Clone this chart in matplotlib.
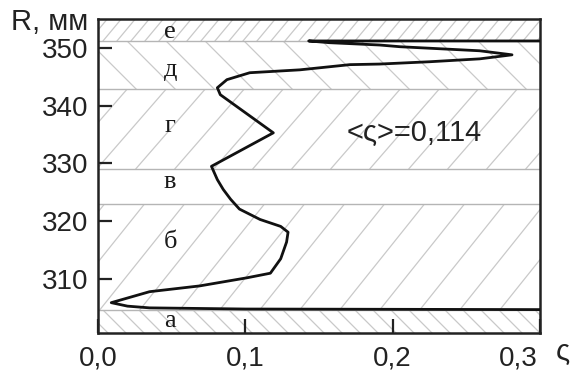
import matplotlib
matplotlib.use('Agg')
import matplotlib.pyplot as plt
from matplotlib.patches import Rectangle
import matplotlib.transforms as mtransforms
import numpy as np

# ---- data ----
zeta = [0.300, 0.100, 0.035, 0.020, 0.009, 0.035, 0.069, 0.101, 0.117,
        0.124, 0.128, 0.129, 0.124, 0.110, 0.096, 0.090, 0.085, 0.081, 0.077,
        0.119, 0.083, 0.081, 0.0875, 0.103, 0.137, 0.171, 0.191, 0.225,
        0.259, 0.281, 0.259, 0.205, 0.191, 0.157, 0.143, 0.300]
radius = [304.7, 304.8, 305.0, 305.3, 305.9, 307.8, 308.8, 310.2, 311.0,
          313.5, 316.4, 318.1, 319.1, 320.3, 322.1, 323.8, 325.5, 327.2, 329.5,
          335.3, 341.9, 343.1, 344.5, 345.7, 346.2, 347.1, 347.2, 347.6,
          348.1, 348.8, 349.5, 350.2, 350.5, 350.9, 351.2, 351.2]

zone_edges = [300.65, 304.7, 322.9, 329.1, 342.9, 351.2, 355.0]
zone_labels = ['а', 'б', 'в', 'г', 'д', 'е']
zone_label_y = [302.8, 316.4, 326.7, 336.4, 346.2, 352.8]
zone_label_x = 0.049

xticks = [0.0, 0.1, 0.2, 0.3]
xtick_labels = ['0,0', '0,1', '0,2', '0,3']
yticks = [310, 320, 330, 340, 350]
ytick_labels = ['310', '320', '330', '340', '350']
mean_text = '<ς>=0,114'

# hatch styles per zone: (direction, spacing px, slope px, phase px)
hatch_styles = [('\\', 18, 1.0, 0), ('/', 40, 1.25, 20), (None, 0, 0, 0),
                ('/', 39, 1.15, 136), ('\\', 39, 1.0, 136), ('/', 14, 1.2, 5)]

W, H = 571, 374
fig = plt.figure(figsize=(W / 100, H / 100), dpi=100)
ax = fig.add_axes([98 / W, 1 - 333 / H, 442 / W, 314 / H])
ax.set_xlim(0, 0.3)
ax.set_ylim(zone_edges[0], zone_edges[-1])

# zone hatching and boundaries
for i, (style, sp, k, ph) in enumerate(hatch_styles):
    y0, y1 = zone_edges[i], zone_edges[i + 1]
    if style is not None:
        (px0, py0), (px1, py1) = ax.transData.transform([(0, y0), (0.3, y1)])
        h = py1 - py0
        rect = Rectangle((0, y0), 0.3, y1 - y0, transform=ax.transData)
        if style == '/':
            start = ph - np.ceil((ph - (px0 - h / k - sp)) / sp) * sp
            cs = np.arange(start, px1 + sp, sp)
            for c in cs:
                pts = ax.transData.inverted().transform([(c, py0), (c + h / k, py1)])
                ln, = ax.plot(pts[:, 0], pts[:, 1], color='#c9c9c9', lw=0.9, zorder=1)
                ln.set_clip_path(rect)
        else:
            start = ph - np.ceil((ph - (px0 - sp)) / sp) * sp
            cs = np.arange(start, px1 + h / k + sp, sp)
            for c in cs:
                pts = ax.transData.inverted().transform([(c, py0), (c - h / k, py1)])
                ln, = ax.plot(pts[:, 0], pts[:, 1], color='#c9c9c9', lw=0.9, zorder=1)
                ln.set_clip_path(rect)
    if 0 < i:
        ax.axhline(y0, color='#b5b5b5', lw=1.0, zorder=2)
    ax.text(zone_label_x, zone_label_y[i], zone_labels[i], ha='center', va='center',
            fontsize=19, family='Liberation Serif', color='#1a1a1a', zorder=4)

ax.plot(zeta, radius, color='#111111', lw=2.0, zorder=3, solid_joinstyle='round')

ax.text(0.2145, 335.3, mean_text, ha='center', va='center', fontsize=21,
        family='Liberation Sans', color='#222222')

ax.set_xticks(xticks)
ax.set_xticklabels(xtick_labels)
ax.set_yticks(yticks)
ax.set_yticklabels(ytick_labels)
ax.tick_params(direction='in', length=10, width=1.6, color='#222222',
               labelsize=20, labelcolor='#222222')
ax.tick_params(axis='x', pad=9)
ax.tick_params(axis='y', pad=7)
for lab in ax.get_xticklabels() + ax.get_yticklabels():
    lab.set_family('Liberation Sans')
last = ax.get_xticklabels()[-1]
last.set_transform(last.get_transform() +
                   mtransforms.ScaledTranslation(-22 / 100, 0, fig.dpi_scale_trans))
for s in ax.spines.values():
    s.set_linewidth(1.8)
    s.set_color('#222222')

fig.text(88 / W, 1 - 22 / H, 'R, мм', ha='right', va='center', fontsize=21,
         family='Liberation Sans', color='#222222')
fig.text(563 / W, 1 - 352 / H, 'ς', ha='center', va='center', fontsize=21,
         family='Liberation Sans', color='#222222')

fig.savefig('out.png', dpi=100)
